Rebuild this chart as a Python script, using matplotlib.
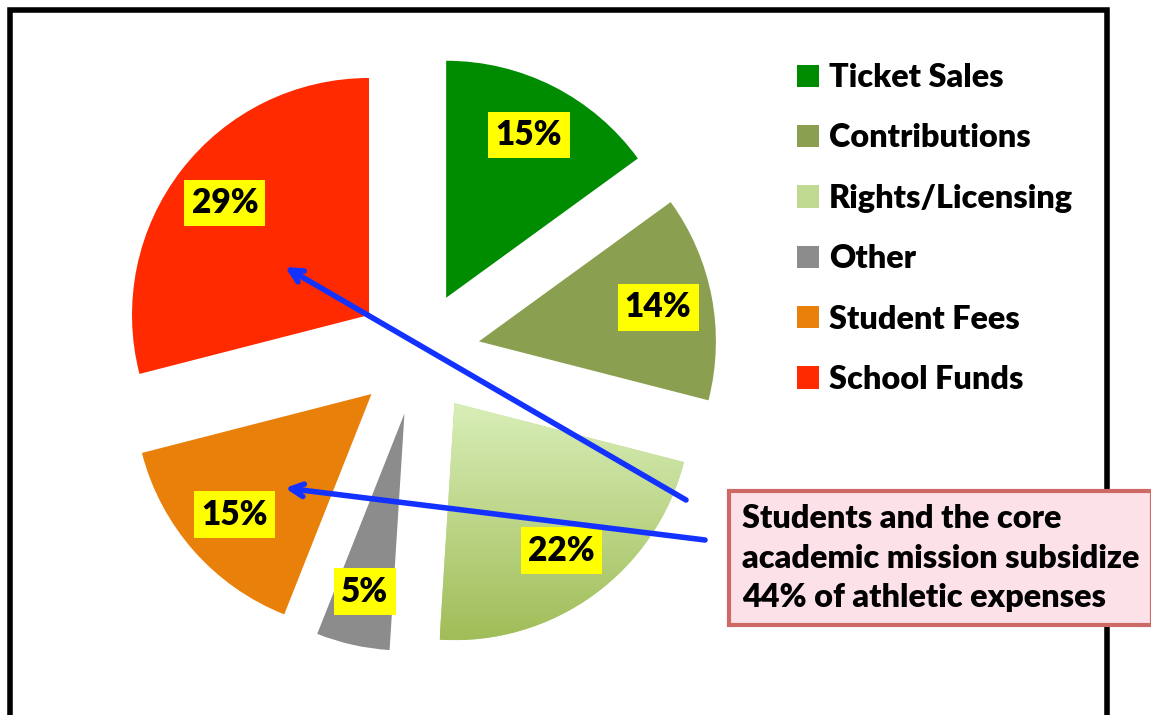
import numpy as np
import matplotlib.pyplot as plt
from matplotlib.colors import LinearSegmentedColormap
from matplotlib.patches import Rectangle

#%% Data
sources = ['Ticket Sales', 'Contributions', 'Rights/Licensing', 'Other',
           'Student Fees', 'School Funds']
shares = [15, 14, 22, 5, 15, 29]     # percent of athletic revenue
colours = ['#008c00', '#8aa050', '#c0da92', '#8c8c8c', '#e8800a', '#ff2a00']
note = 'Students and the core\nacademic mission subsidize\n44% of athletic expenses'

plt.rcParams['font.family'] = ['Lato', 'DejaVu Sans']

#%% Figure in pixel units (y up), 1151 x 715
W, H = 1151, 715
fig = plt.figure(figsize=(W / 100, H / 100), dpi=100)
ax = fig.add_axes([0, 0, 1, 1])

R = 237
wedges, texts, autotexts = ax.pie(
    shares, colors=colours, startangle=90, counterclock=False,
    radius=R, center=(418, H - 353), explode=[62] * len(shares),
    autopct=lambda p: '%.0f%%' % p, pctdistance=0.77,
    textprops=dict(fontsize=24, fontweight='heavy', color='black'))

for t in autotexts:
    t.set_bbox(dict(boxstyle='square,pad=0.22', facecolor='#ffff00', edgecolor='none'))
    t.set_zorder(5)

# gradient fill on the Rights/Licensing slice
w = wedges[2]
bb = w.get_path().get_extents(w.get_patch_transform())
grad = LinearSegmentedColormap.from_list('g', ['#a0bd58', '#d8eeb8'])
img = ax.imshow(np.linspace(0, 1, 256).reshape(-1, 1), cmap=grad, aspect='auto',
                origin='lower', extent=(bb.x0, bb.x1, bb.y0, bb.y1), zorder=2)
img.set_clip_path(w)

ax.set_xlim(0, W)
ax.set_ylim(0, H)
ax.set_aspect('equal')
ax.axis('off')

#%% Legend
leg = ax.legend(wedges, sources, loc='upper left', bbox_to_anchor=(797 / W, 1 - 63 / H),
                frameon=False, borderpad=0, borderaxespad=0, handlelength=0.68,
                handleheight=0.68, handletextpad=0.3, labelspacing=0.97,
                prop=dict(size=23.3, weight='heavy'))

#%% Arrows and note
blue = '#1432ff'
for tip, tail in [((285, H - 267), (686, H - 500)), ((285, H - 488), (705, H - 540))]:
    ax.annotate('', xy=tip, xytext=tail,
                arrowprops=dict(arrowstyle='->,head_length=0.9,head_width=0.45',
                                color=blue, lw=4, shrinkA=0, shrinkB=0), zorder=6)

ax.text(742, H - 558, note, fontsize=23.3, fontweight='heavy', va='center', ha='left',
        linespacing=1.45, zorder=7,
        bbox=dict(boxstyle='square,pad=0.4', facecolor='#fde1e9',
                  edgecolor='#cd6a66', linewidth=3))

# black frame round the slide, under the note box
ax.add_patch(Rectangle((10 / W, -0.05), 1097 / W, 1.05 - 10 / H,
                       transform=fig.transFigure, fill=False, clip_on=False,
                       edgecolor='black', linewidth=4, zorder=0.5))

fig.savefig('out.png', dpi=100)
